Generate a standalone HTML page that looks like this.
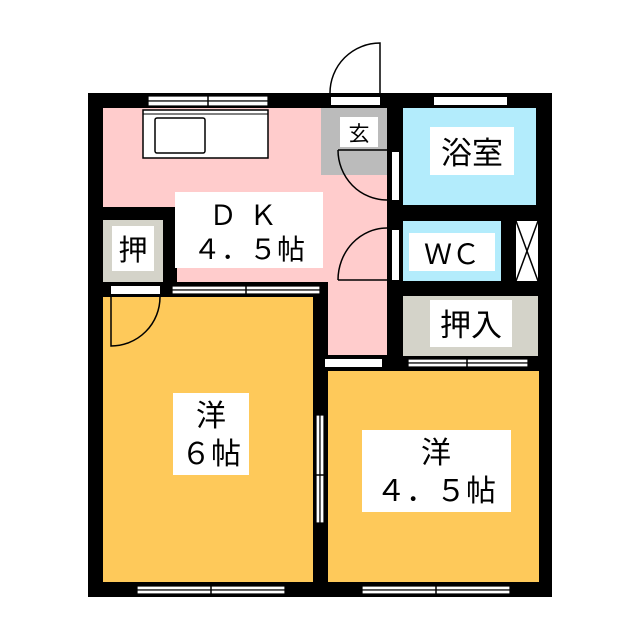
<!DOCTYPE html>
<html><head><meta charset="utf-8"><style>html,body{margin:0;padding:0;background:#fff;}svg{display:block}text{font-family:"Liberation Sans","Noto Sans CJK JP",sans-serif;fill:#000}</style></head><body>
<svg width="640" height="640" viewBox="0 0 640 640" xmlns="http://www.w3.org/2000/svg">
<rect width="640" height="640" fill="#fff"/>
<rect x="88" y="93" width="464" height="504" fill="#000"/>
<rect x="103" y="108" width="284" height="99" fill="#ffcccc"/>
<rect x="177" y="207" width="210" height="75" fill="#ffcccc"/>
<rect x="328" y="282" width="59" height="73" fill="#ffcccc"/>
<rect x="321" y="108" width="66" height="67" fill="#bbbbbb"/>
<rect x="403" y="108" width="133" height="97" fill="#b3ecfc"/>
<rect x="403" y="221" width="98" height="60" fill="#b3ecfc"/>
<rect x="516" y="221" width="22" height="60" fill="#fff"/>
<path d="M516 221 L538 281 M538 221 L516 281" stroke="#000" stroke-width="1.5"/>
<rect x="403" y="296" width="135" height="60" fill="#d4d3c9"/>
<rect x="103" y="220" width="60" height="62" fill="#d4d3c9"/>
<rect x="103" y="297" width="210" height="285" fill="#fec95a"/>
<rect x="328" y="371" width="211" height="211" fill="#fec95a"/>
<g fill="#fff" stroke="#000" stroke-width="1.2">
<rect x="148" y="96" width="120" height="5"/><rect x="148" y="101" width="120" height="5"/>
<rect x="331" y="97" width="49" height="8" stroke="none"/>
<rect x="434" y="97" width="73" height="8" stroke="none"/>
<rect x="172" y="286" width="148" height="4"/><rect x="172" y="290" width="148" height="4"/>
<rect x="111" y="286" width="49" height="8" stroke="none"/>
<rect x="325" y="359" width="57" height="8" stroke="none"/>
<rect x="408" y="359" width="120" height="4"/><rect x="408" y="363" width="120" height="4"/>
<rect x="137" y="586" width="148" height="4"/><rect x="137" y="590" width="148" height="4"/>
<rect x="362" y="586" width="148" height="4"/><rect x="362" y="590" width="148" height="4"/>
<rect x="316" y="415" width="4" height="108"/><rect x="320" y="415" width="4" height="108"/>
<rect x="392" y="152" width="7" height="48" stroke="none"/>
<rect x="392" y="230" width="7" height="50" stroke="none"/>
</g>
<g stroke="#000" stroke-width="1.5">
<path d="M208 94v14M246 283v14M467 356v14M211 583v14M436 583v14M314 475h14"/>
</g>
<rect x="143" y="110" width="125" height="48" fill="#fff" stroke="#000" stroke-width="1.5"/>
<line x1="143" y1="114" x2="268" y2="114" stroke="#000" stroke-width="1"/>
<rect x="155" y="118" width="50" height="35" rx="2" fill="#fff" stroke="#000" stroke-width="1.5"/>
<g fill="none" stroke="#000" stroke-width="1.5">
<path d="M380 93 V43 A50 50 0 0 0 330 93"/>
<path d="M338 150 H387 M338 150 A49 50 0 0 0 387 200"/>
<path d="M338 280 H387 M338 280 A49 52 0 0 1 387 228"/>
<path d="M111 297 V346 A49 49 0 0 0 160 297"/>
</g>
<rect x="175" y="192" width="148" height="76" fill="#fff"/>
<text x="249" y="225" font-size="28" text-anchor="middle" letter-spacing="12">ＤＫ</text>
<text x="249" y="259" font-size="28" text-anchor="middle">４．５帖</text>
<rect x="340" y="117" width="38" height="30" fill="#fff"/>
<text x="359" y="141" font-size="21" text-anchor="middle">玄</text>
<rect x="430" y="127" width="84" height="48" fill="#fff"/>
<text x="472" y="164" font-size="31" text-anchor="middle">浴室</text>
<rect x="409" y="233" width="86" height="38" fill="#fff"/>
<text x="452" y="264" font-size="28" text-anchor="middle">ＷＣ</text>
<rect x="430" y="300" width="82" height="47" fill="#fff"/>
<text x="471" y="336" font-size="31" text-anchor="middle">押入</text>
<rect x="112" y="226" width="42" height="45" fill="#fff"/>
<text x="133" y="260" font-size="29" text-anchor="middle">押</text>
<rect x="173" y="393" width="76" height="82" fill="#fff"/>
<text x="211" y="426" font-size="30" text-anchor="middle">洋</text>
<text x="211" y="464" font-size="30" text-anchor="middle">６帖</text>
<rect x="362" y="430" width="149" height="82" fill="#fff"/>
<text x="436" y="463" font-size="30" text-anchor="middle">洋</text>
<text x="436" y="501" font-size="30" text-anchor="middle">４．５帖</text>
</svg>
</body></html>
